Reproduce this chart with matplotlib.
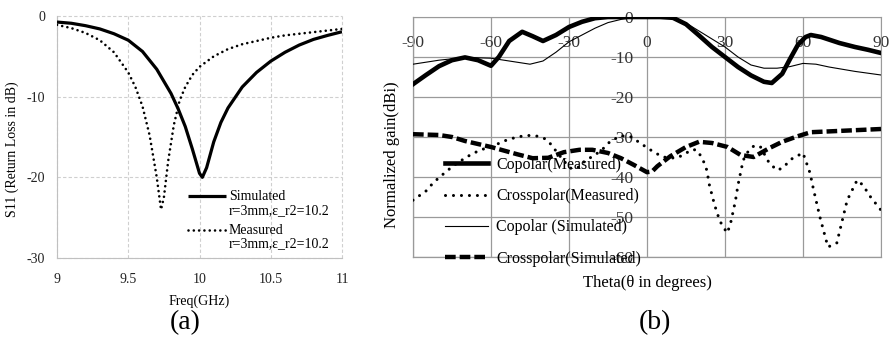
import matplotlib
matplotlib.use("Agg")
import matplotlib.pyplot as plt
from matplotlib.legend_handler import HandlerLine2D

plt.rcParams['font.family'] = ['Liberation Serif', 'DejaVu Serif']
plt.rcParams['axes.unicode_minus'] = False

# ---------------- data: (a) S11 ----------------
freq_sim = [9.0, 9.1, 9.2, 9.3, 9.4, 9.5, 9.6, 9.7, 9.8, 9.85, 9.9, 9.95, 10.0, 10.02,
            10.05, 10.1, 10.15, 10.2, 10.3, 10.4, 10.5, 10.6, 10.7, 10.8, 10.9, 11.0]
s11_sim = [-0.75, -0.9, -1.2, -1.6, -2.2, -3.0, -4.4, -6.6, -9.6, -11.5, -13.7, -16.5, -19.5, -20.0,
           -18.8, -15.6, -13.2, -11.4, -8.8, -7.0, -5.6, -4.5, -3.6, -2.9, -2.4, -1.95]
freq_meas = [9.0, 9.1, 9.2, 9.3, 9.4, 9.5, 9.55, 9.6, 9.65, 9.7, 9.73, 9.75, 9.78, 9.82,
             9.86, 9.9, 9.95, 10.0, 10.1, 10.2, 10.3, 10.4, 10.5, 10.6, 10.7, 10.8, 10.9, 11.0]
s11_meas = [-1.1, -1.5, -2.1, -3.0, -4.5, -7.0, -8.8, -11.2, -14.8, -20.0, -24.0, -22.5, -18.0, -13.5,
            -10.5, -8.8, -7.3, -6.3, -5.0, -4.1, -3.5, -3.1, -2.7, -2.4, -2.2, -2.0, -1.8, -1.6]
freq_ticks = [9, 9.5, 10, 10.5, 11]
freq_ticklabels = ['9', '9.5', '10', '10.5', '11']
s11_ticks = [0, -10, -20, -30]

# ---------------- data: (b) radiation pattern ----------------
th_co_meas = [-90, -85, -80, -75, -70, -65, -60, -57, -53, -48, -44, -40, -35, -30, -25, -20, -15,
              -10, -5, 0, 5, 10, 15, 20, 25, 30, 35, 40, 45, 48, 52, 55, 58, 61, 63, 67, 74, 80, 85, 90]
co_meas = [-16.8, -14.5, -12.3, -10.8, -10.1, -10.8, -12.2, -10.0, -6.0, -3.7, -4.8, -6.0, -4.5, -2.5,
           -1.2, -0.3, 0.0, 0.0, 0.0, 0.0, 0.0, -0.2, -1.8, -4.6, -7.5, -10.0, -12.5, -14.6, -16.2,
           -16.5, -14.2, -10.5, -7.0, -5.0, -4.5, -5.0, -6.5, -7.5, -8.2, -9.0]
th_co_sim = [-90, -80, -70, -60, -50, -45, -40, -35, -30, -25, -20, -15, -10, -5, 0, 5, 10, 15,
             20, 25, 30, 35, 40, 45, 50, 55, 60, 65, 70, 80, 90]
co_sim = [-11.8, -10.8, -10.1, -10.3, -11.3, -11.8, -11.0, -8.8, -6.2, -4.5, -2.8, -1.4, -0.6, -0.1,
          0.0, 0.0, -0.3, -1.5, -3.5, -5.5, -7.5, -10.0, -12.0, -12.8, -12.8, -12.4, -11.6, -11.8,
          -12.5, -13.6, -14.5]
th_x_sim = [-90, -80, -75, -70, -60, -50, -44, -38, -32, -26, -21, -15, -10, -5, 0, 2, 4, 9, 15,
            20, 25, 31, 36, 41, 47, 52, 58, 63, 70, 80, 90]
x_sim = [-29.3, -29.5, -30.0, -31.0, -32.5, -34.3, -35.3, -35.2, -33.8, -33.2, -33.2, -34.0, -35.3,
         -37.0, -38.8, -38.6, -37.3, -34.8, -32.5, -31.2, -31.5, -32.5, -34.5, -35.0, -32.8, -31.2,
         -29.8, -28.8, -28.6, -28.3, -28.0]
th_x_meas = [-90, -85, -82, -77, -73, -68, -64, -60, -55, -50, -46, -42, -39, -37, -35, -32, -29,
             -26, -24, -20, -17, -14, -10, -6, -2, 2, 6, 11, 14, 17, 19, 21, 22, 23, 24, 26, 28,
             30.8, 32, 34, 35, 37, 39, 41, 43.5, 47, 50, 52, 56, 60, 62.7, 64, 66.5, 69.6, 73, 77,
             80.8, 83, 86, 90]
x_meas = [-45.8, -43.5, -41.3, -38.5, -36.5, -34.5, -33.2, -32.5, -31.0, -30.0, -29.6, -29.8, -30.5,
          -31.8, -33.5, -36.0, -38.0, -37.5, -36.0, -34.5, -33.0, -31.0, -29.7, -30.0, -31.8, -33.5,
          -35.0, -35.3, -34.5, -33.2, -33.2, -35.0, -36.5, -38.3, -42.0, -47.0, -51.0, -54.0, -52.0,
          -46.0, -42.0, -35.8, -33.5, -32.3, -32.3, -36.5, -38.3, -37.8, -35.3, -34.0, -39.0, -43.0,
          -50.0, -57.5, -56.5, -45.8, -40.8, -42.0, -45.0, -48.3]
theta_ticks = [-90, -60, -30, 0, 30, 60, 90]
gain_ticks = [0, -10, -20, -30, -40, -50, -60]

W, H = 890, 340
fig = plt.figure(figsize=(W / 100, H / 100), dpi=100)


def frac(x0, y0, x1, y1):
    return [x0 / W, 1 - y1 / H, (x1 - x0) / W, (y1 - y0) / H]


class TopHandler(HandlerLine2D):
    def __init__(self, shift, **kw):
        super().__init__(**kw)
        self.shift = shift

    def create_artists(self, legend, orig_handle, xdescent, ydescent, width, height, fontsize, trans):
        return super().create_artists(legend, orig_handle, xdescent, ydescent - 2 * self.shift,
                                      width, height, fontsize, trans)


# ---------------- (a) ----------------
ax1 = fig.add_axes(frac(57, 16, 342, 258))
grid_c = '#cfcfcf'
l_sim, = ax1.plot(freq_sim, s11_sim, color='black', lw=2.3, solid_capstyle='butt', zorder=3)
l_meas, = ax1.plot(freq_meas, s11_meas, color='black', lw=1.9, linestyle=(0, (0.01, 2.0)),
                   dash_capstyle='round', zorder=3)
ax1.set_xlim(9, 11)
ax1.set_ylim(-30, 0)
ax1.set_xticks(freq_ticks)
ax1.set_xticklabels(freq_ticklabels)
ax1.set_yticks(s11_ticks)
ax1.grid(True, color=grid_c, linestyle=(0, (3, 2)), lw=0.8)
for l in ax1.get_xgridlines() + ax1.get_ygridlines():
    l.set_clip_on(False)
ax1.spines['top'].set_visible(False)
ax1.spines['right'].set_visible(False)
ax1.spines['left'].set_color('#c0c0c0')
ax1.spines['bottom'].set_color('#c0c0c0')
ax1.tick_params(length=0, labelsize=10, colors='#222222')
ax1.tick_params(axis='y', pad=8.5)
ax1.tick_params(axis='x', pad=11)
ax1.set_xlabel('Freq(GHz)', fontsize=10, labelpad=6)
ax1.set_ylabel('S11 (Return Loss in dB)', fontsize=10)
ax1.yaxis.set_label_coords(-0.135, 0.45)
leg1 = ax1.legend([l_sim, l_meas], ['Simulated\nr=3mm,ε_r2=10.2', 'Measured\nr=3mm,ε_r2=10.2'],
                  loc='upper left', bbox_to_anchor=((188 - 57) / 285, (258 - 190) / 242),
                  frameon=False, fontsize=10, handlelength=2.7, handletextpad=0.25,
                  borderpad=0, borderaxespad=0, labelspacing=0.5,
                  handler_map={l_sim: TopHandler(5.5), l_meas: TopHandler(5.5)})
for t in leg1.get_texts():
    t.set_linespacing(1.08)

# ---------------- (b) ----------------
ax2 = fig.add_axes(frac(413, 17, 881, 257))
gc2 = '#9a9a9a'
lc_m, = ax2.plot(th_co_meas, co_meas, color='black', lw=3.3, zorder=4, label='Copolar(Measured)')
lx_m, = ax2.plot(th_x_meas, x_meas, color='black', lw=2.2, linestyle=(0, (0.01, 2.6)),
                 dash_capstyle='round', zorder=4, label='Crosspolar(Measured)')
lc_s, = ax2.plot(th_co_sim, co_sim, color='black', lw=0.8, zorder=4, label='Copolar (Simulated)')
lx_s, = ax2.plot(th_x_sim, x_sim, color='black', lw=3.2, linestyle=(0, (2.4, 0.9)),
                 zorder=4, label='Crosspolar(Simulated)')
ax2.set_xlim(-90, 90)
ax2.set_ylim(-60, 0)
ax2.set_xticks(theta_ticks)
ax2.set_yticks(gain_ticks)
ax2.grid(True, color=gc2, lw=0.9)
ax2.spines['left'].set_position(('data', 0))
ax2.spines['bottom'].set_position(('data', 0))
for s in ['left', 'bottom']:
    ax2.spines[s].set_visible(False)
for s in ['top', 'right']:
    ax2.spines[s].set_color(gc2)
ax2.axvline(-90, color=gc2, lw=0.9, clip_on=False)
ax2.axhline(-60, color=gc2, lw=0.9, clip_on=False)
ax2.tick_params(length=0, labelsize=12.5, colors='#333333')
ax2.tick_params(axis='y', pad=10)
ax2.tick_params(axis='x', pad=13)
ax2.text(0.5, -0.11, 'Theta(θ in degrees)', transform=ax2.transAxes, ha='center', va='center',
         fontsize=12)
ax2.text(-0.045, 0.425, 'Normalized gain(dBi)', transform=ax2.transAxes, rotation=90,
         ha='center', va='center', fontsize=12)
leg2 = ax2.legend(handles=[lc_m, lx_m, lc_s, lx_s], loc='upper left',
                  bbox_to_anchor=((445 - 413) / 468, (257 - 157) / 240),
                  frameon=False, fontsize=11.5, handlelength=2.7, handletextpad=0.5,
                  borderpad=0, borderaxespad=0, labelspacing=0.95)
leg2.set_zorder(3)

fig.text(185 / W, 1 - 323 / H, '(a)', ha='center', va='center', fontsize=20)
fig.text(655 / W, 1 - 323 / H, '(b)', ha='center', va='center', fontsize=20)

fig.savefig('out.png', dpi=100)
